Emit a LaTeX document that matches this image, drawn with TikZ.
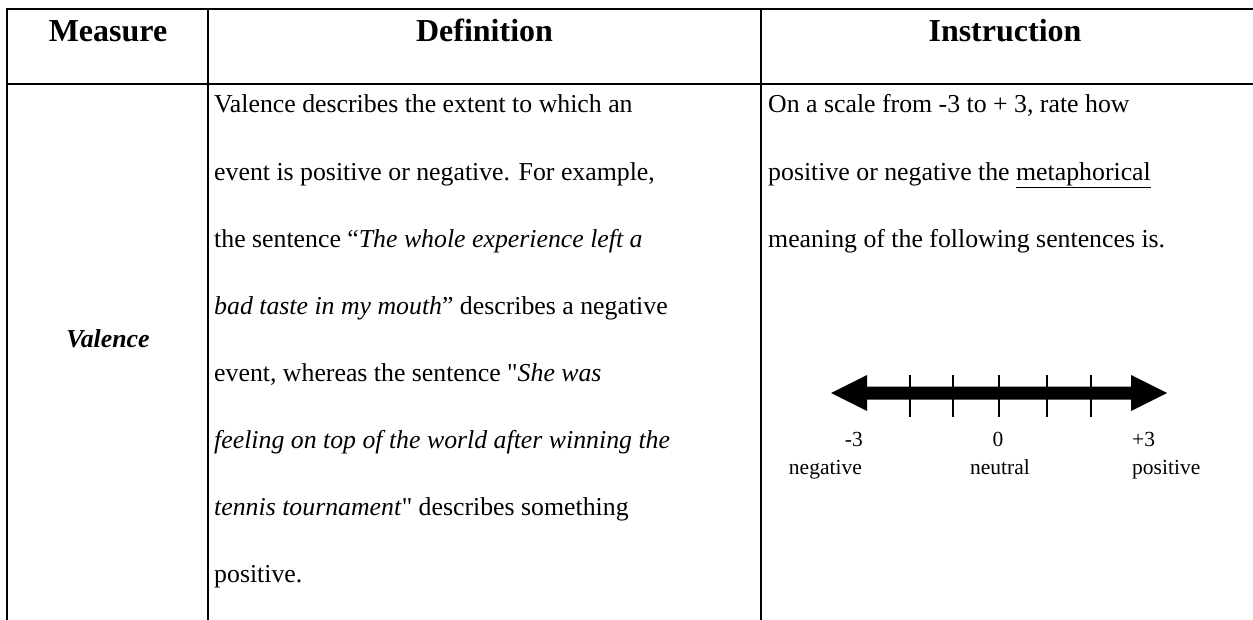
\documentclass[tikz,border=0pt]{standalone}
\usepackage{fontspec}
\setmainfont{Liberation Serif}
\begin{document}
\begin{tikzpicture}[x=1pt,y=-1pt,
  rule/.style={line width=2.2pt},
  txt/.style={inner sep=0pt,font=\fontsize{25.8}{30}\selectfont},
  head/.style={inner sep=0pt,font=\fontsize{32}{36}\selectfont\bfseries},
  lbl/.style={inner sep=0pt,font=\fontsize{21.5}{25}\selectfont},
  tick/.style={line width=2.4pt}]
\useasboundingbox (0,0) rectangle (1253,620);

% table rules
\draw[rule] (7,9) -- (1256,9);
\draw[rule] (7,84) -- (1256,84);
\draw[rule] (7,7.9) -- (7,622);
\draw[rule] (208,9) -- (208,622);
\draw[rule] (761,9) -- (761,622);

% header row
\node[head,anchor=base] (hm) at (108,42) {Measure};
\node[head,anchor=base] (hd) at (484.5,42) {Definition};
\node[head,anchor=base] (hi) at (1005,42) {Instruction};

% measure name
\node[txt,anchor=base,font=\fontsize{25.8}{30}\selectfont\bfseries\itshape] (val) at (108,347) {Valence};

% definition text, one node per line
\def\lsp{67.1}
\node[txt,anchor=base west] (d1) at (214,113) {Valence describes the extent to which an};
\node[txt,anchor=base west] (d2) at (214,113+\lsp) {event is positive or negative. For example,};
\node[txt,anchor=base west] (d3) at (214,113+2*\lsp) {the sentence “\textit{The whole experience left a}};
\node[txt,anchor=base west] (d4) at (214,113+3*\lsp) {\textit{bad taste in my mouth}” describes a negative};
\node[txt,anchor=base west] (d5) at (214,113+4*\lsp) {event, whereas the sentence \textquotedbl\textit{She was}};
\node[txt,anchor=base west] (d6) at (214,113+5*\lsp) {\textit{feeling on top of the world after winning the}};
\node[txt,anchor=base west] (d7) at (214,113+6*\lsp) {\textit{tennis tournament}\textquotedbl\ describes something};
\node[txt,anchor=base west] (d8) at (214,113+7*\lsp) {positive.};

% instruction text
\node[txt,anchor=base west] (i1) at (768,113) {On a scale from -3 to + 3, rate how};
\node[txt,anchor=base west] (i2) at (768,113+\lsp) {positive or negative the \underline{metaphorical}};
\node[txt,anchor=base west] (i3) at (768,113+2*\lsp) {meaning of the following sentences is.};

% rating scale: double-headed bar
\fill (831,393) -- (867,375) -- (867,386.5) -- (1131,386.5) -- (1131,375)
  -- (1167,393) -- (1131,411) -- (1131,399.5) -- (867,399.5) -- (867,411) -- cycle;
\foreach \tx in {910,953,999,1047,1091}
  \draw[tick] (\tx,375) -- (\tx,417);

\node[lbl,anchor=base east] (m3) at (863,446) {-3};
\node[lbl,anchor=base east] (neg) at (862,474) {negative};
\node[lbl,anchor=base] (z0) at (998,446) {0};
\node[lbl,anchor=base] (neu) at (1000,474) {neutral};
\node[lbl,anchor=base west] (p3) at (1132,446) {+3};
\node[lbl,anchor=base west] (pos) at (1132,474) {positive};
\end{tikzpicture}
\end{document}
